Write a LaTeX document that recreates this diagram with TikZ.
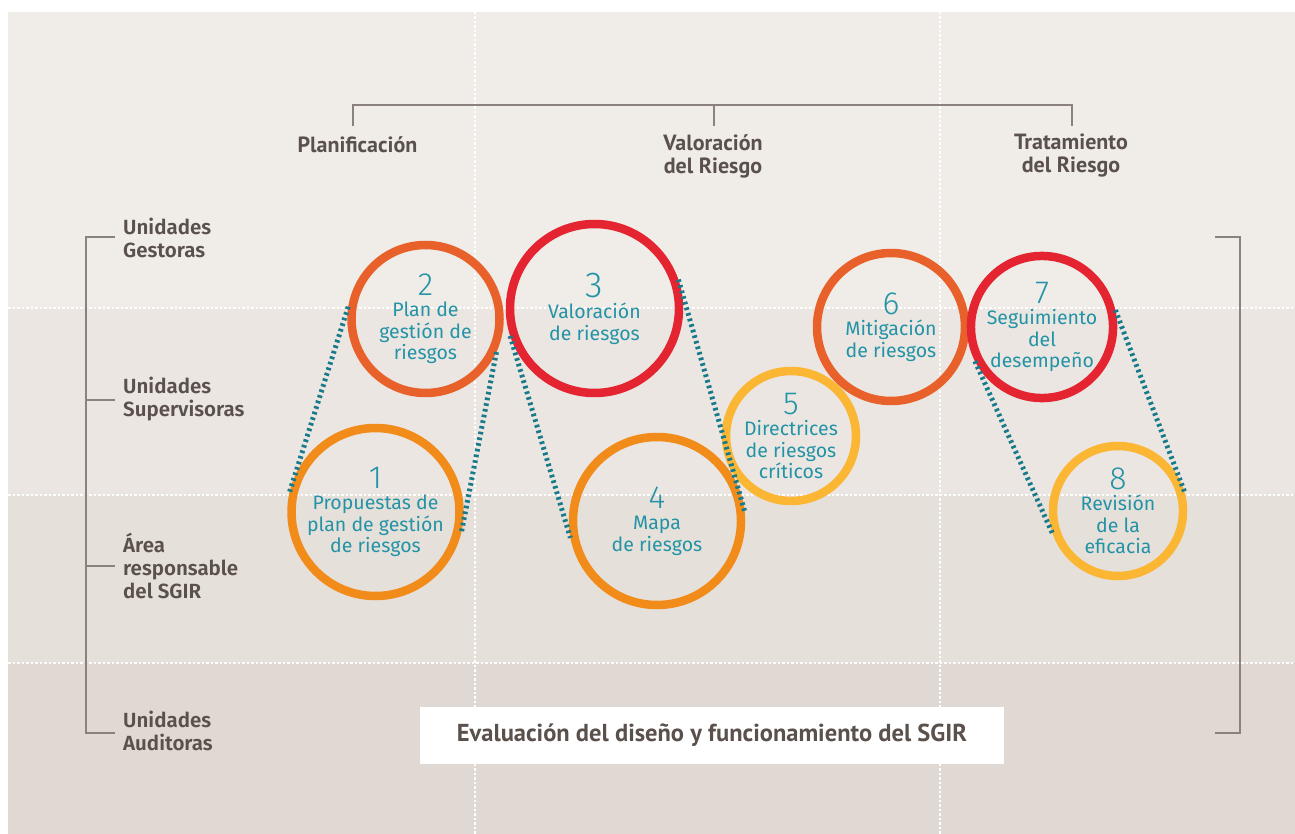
\documentclass[tikz,border=0pt]{standalone}
\usepackage{fontspec}
\setmainfont{Fira Sans}
\newfontfamily\hdrfont{PT Sans}
\IfFontExistsTF{Fira Sans SemiBold}
  {\newfontfamily\labfont{Fira Sans SemiBold}}
  {\newfontfamily\labfont{Fira Sans}[UprightFont=*,BoldFont=*]\def\labbold{\bfseries}}
\IfFontExistsTF{Fira Sans Light}
  {\newfontfamily\numfont{Fira Sans Light}}
  {\newfontfamily\numfont{Fira Sans}}
\providecommand{\labbold}{}
\definecolor{bgA}{HTML}{F0ECE7}
\definecolor{bgB}{HTML}{EBE6E1}
\definecolor{bgC}{HTML}{E6E0DA}
\definecolor{bgD}{HTML}{E0D9D3}
\definecolor{ringRed}{HTML}{E42531}
\definecolor{ringOrRed}{HTML}{E9612A}
\definecolor{ringOrange}{HTML}{F18C1B}
\definecolor{ringYellow}{HTML}{FBB633}
\definecolor{tealtxt}{HTML}{2393A6}
\definecolor{tealdot}{HTML}{177A8B}
\definecolor{labtxt}{HTML}{5A504C}
\definecolor{brk}{HTML}{8B827D}
\begin{document}
\begin{tikzpicture}[x=1pt,y=-1pt,
  ring/.style={circle, draw, line width=8.5pt, inner sep=0pt, align=center,
    text=tealtxt, font=\fontsize{19.5}{21.5}\selectfont},
  link/.style={draw=tealdot, line width=5pt, dash pattern=on 2.6pt off 3.2pt},
  gridline/.style={draw=white, line width=1.3pt, dash pattern=on 2.5pt off 2pt},
  bracket/.style={draw=brk, line width=1.2pt},
  rowlab/.style={anchor=west, align=left, text=labtxt, inner sep=0pt,
    font=\labfont\labbold\fontsize{20.5}{23}\selectfont},
  collab/.style={align=center, text=labtxt, inner sep=0pt,
    font=\hdrfont\bfseries\fontsize{22}{23}\selectfont}
]
\newcommand{\numb}[1]{{\numfont\fontsize{32}{28}\selectfont #1}}
\useasboundingbox (0,0) rectangle (1295,834);
\fill[white] (0,0) rectangle (1295,834);
% background bands
\fill[bgA] (8,12) rectangle (1295,308);
\fill[bgB] (8,308) rectangle (1295,495);
\fill[bgC] (8,495) rectangle (1295,663);
\fill[bgD] (8,663) rectangle (1295,834);
% grid lines
\draw[gridline] (8,308) -- (1295,308);
\draw[gridline] (8,495) -- (1295,495);
\draw[gridline] (8,663) -- (1295,663);
\draw[gridline] (475,12) -- (475,834);
\draw[gridline] (940,12) -- (940,834);
% bottom box
\node[fill=white, minimum width=584pt, minimum height=57pt, inner sep=0pt,
  text=labtxt, font=\hdrfont\bfseries\fontsize{24.5}{26}\selectfont] (eval) at (712,735)
  {Evaluación del diseño y funcionamiento del SGIR};
% column headers and bracket
\node[collab] (h1) at (357.5,145) {Planificación};
\node[collab] (h2) at (713,156) {Valoración\\del Riesgo};
\node[collab] (h3) at (1071,156) {Tratamiento\\del Riesgo};
\coordinate (tb1) at (353,126);
\coordinate (tb2) at (714,126);
\coordinate (tb3) at (1072,126);
\coordinate (tt1) at (353,105);
\coordinate (tt2) at (714,105);
\coordinate (tt3) at (1072,105);
\draw[bracket] (tb1) -- (tt1) -- (tt3) -- (tb3);
\draw[bracket] (tt2) -- (tb2);
% row labels and bracket
\node[rowlab] (r1) at (123,237.5) {Unidades\\Gestoras};
\node[rowlab] (r2) at (123,399.5) {Unidades\\Supervisoras};
\node[rowlab] (r3) at (123,565.5) {Área\\responsable\\del SGIR};
\node[rowlab] (r4) at (123,730.5) {Unidades\\Auditoras};
\coordinate (l1) at (86,237);
\coordinate (l2) at (86,400);
\coordinate (l3) at (86,566);
\coordinate (l4) at (86,733);
\draw[bracket] (115,237) -- (l1) -- (l4) -- (115,733);
\draw[bracket] (l2) -- (115,400);
\draw[bracket] (l3) -- (115,566);
% right bracket
\coordinate (rb1) at (1240,237);
\coordinate (rb2) at (1240,733);
\draw[bracket] (1215,237) -- (rb1) -- (rb2) -- (1215,733);
% circles
\node[ring, draw=ringOrange, minimum size=168pt] (c1) at (375.5,512)
  {\numb{1}\\Propuestas de\\plan de gestión\\de riesgos};
\node[ring, draw=ringOrRed, minimum size=148pt] (c2) at (425.5,319)
  {\numb{2}\\Plan de\\gestión de\\riesgos};
\node[ring, draw=ringRed, minimum size=169pt] (c3) at (594.5,308.5)
  {{\numfont\fontsize{36}{30}\selectfont 3}\\Valoración\\de riesgos};
\node[ring, draw=ringOrange, minimum size=168pt] (c4) at (657,521)
  {\numb{4}\\Mapa\\de riesgos};
\node[ring, draw=ringYellow, minimum size=130pt] (c5) at (791,436)
  {\numb{5}\\Directrices\\de riesgos\\críticos};
\node[ring, draw=ringOrRed, minimum size=148pt] (c6) at (891,327)
  {\numb{6}\\Mitigación\\de riesgos};
\node[ring, draw=ringRed, minimum size=136pt] (c7) at (1042,327)
  {\numb{7}\\Seguimiento\\del\\desempeño};
\node[ring, draw=ringYellow, minimum size=130pt] (c8) at (1118,511)
  {\numb{8}\\Revisión\\de la\\eficacia};
% dotted links
\draw[link] (c2.171) -- (c1.167);
\draw[link] (c2.-25) -- (c1.-13);
\draw[link] (c3.198) -- (c4.191);
\draw[link] (c3.19) -- (c4.6);
\draw[link] (c7.207) -- (c8.199);
\draw[link] (c7.13) -- (c8.16);
\end{tikzpicture}
\end{document}
